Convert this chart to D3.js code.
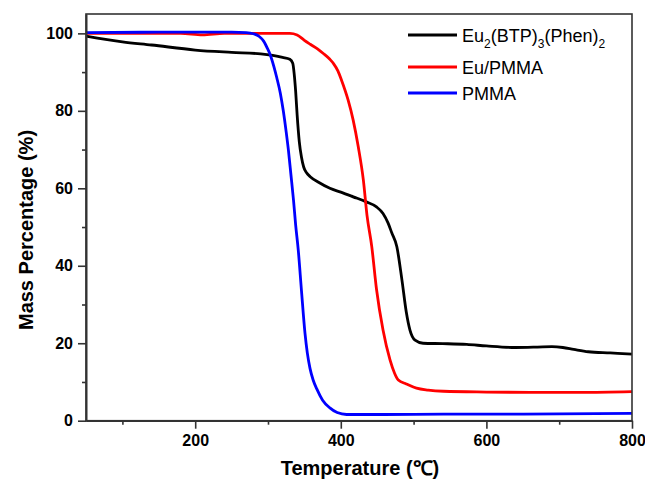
<!DOCTYPE html>
<html>
<head>
<meta charset="utf-8">
<script src="https://cdn.jsdelivr.net/npm/d3@7"></script>
<style>
  body { margin: 0; background: #fff; }
  svg text { font-family: Arial, "Liberation Sans", sans-serif; fill: #000; }
</style>
</head>
<body>
<div id="chart"></div>
<script>
// TGA curves: [temperature, mass %]
const complexData = [
  [50, 99.3], [100, 97.8], [140, 97.0], [200, 95.7], [250, 95.1], [290, 94.7],
  [320, 93.8], [330, 93.3], [334, 92.3], [336, 89.5], [338, 85], [340, 79],
  [343, 72], [346, 68], [349, 65.5], [353, 64.0], [358, 63.0], [370, 61.5],
  [385, 60.0], [400, 59.0], [417, 57.8], [435, 56.5], [449, 55.2], [458, 53.5],
  [465, 51], [470, 48.5], [477, 44.9], [484, 36.3], [490, 28], [495, 23.4],
  [502, 20.8], [513, 20.0], [540, 19.9], [573, 19.7], [600, 19.3], [640, 18.9],
  [670, 19.0], [690, 19.1], [705, 18.9], [720, 18.4], [740, 17.8], [770, 17.5], [800, 17.2]
];
const euPmmaData = [
  [50, 100], [100, 100], [180, 100], [210, 99.6], [240, 100], [300, 100], [330, 100],
  [340, 99.6], [350, 98.2], [358, 97.2], [368, 96.0], [376, 94.8], [385, 93.3],
  [390, 92.2], [396, 90.3], [401, 87.9], [410, 82.8], [417, 77.6], [424, 70.7],
  [431, 62.1], [436, 53], [442.5, 45], [449, 34], [458, 23.4], [467.6, 15.7],
  [474, 12.2], [479, 10.5], [490, 9.5], [504, 8.4], [520, 7.9], [541, 7.6],
  [600, 7.4], [660, 7.3], [730, 7.3], [800, 7.5]
];
const pmmaData = [
  [50, 100.2], [150, 100.3], [250, 100.3], [270, 100.2], [280, 99.9], [288, 99.2],
  [294, 98.0], [299, 96.2], [303, 94.5], [308, 91.5], [312, 88.6], [317, 84.5],
  [321, 80], [325, 74.5], [328, 69.9], [331.5, 63.5], [335, 57], [338, 50.5],
  [341.6, 44], [346, 33.5], [350.8, 22.6], [354, 17.5], [357.7, 13.5], [362, 10.5],
  [367, 8.2], [375, 5.3], [385, 3.3], [395, 2.1], [408, 1.6], [450, 1.6],
  [550, 1.7], [650, 1.7], [800, 1.9]
];

const seriesNames = ["Eu/PMMA", "PMMA"];
const seriesColors = ["#000000", "#ff0000", "#0000ff"];
const xTicks = [200, 400, 600, 800];
const xMinorTicks = [100, 300, 500, 700];
const yTicks = [0, 20, 40, 60, 80, 100];
const yMinorTicks = [10, 30, 50, 70, 90];

const width = 645, height = 484;
const plotLeft = 86, plotRight = 632, plotTop = 14, plotBottom = 420.7;

const svg = d3.select("#chart").append("svg")
  .attr("width", width).attr("height", height);

const x = d3.scaleLinear().domain([50, 800]).range([plotLeft, plotRight]);
const y = d3.scaleLinear().domain([0, 105]).range([plotBottom, plotTop]);

// curves first, frame on top
const line = d3.line().x(d => x(d[0])).y(d => y(d[1])).curve(d3.curveMonotoneX);
const allSeries = [complexData, euPmmaData, pmmaData];
// draw order: black, red, blue (blue on top like the original)
allSeries.forEach((s, i) => {
  svg.append("path")
    .datum(s)
    .attr("d", line)
    .attr("fill", "none")
    .attr("stroke", seriesColors[i])
    .attr("stroke-width", 2.8)
    .attr("stroke-linejoin", "round");
});

// frame
svg.append("rect")
  .attr("x", plotLeft).attr("y", plotTop)
  .attr("width", plotRight - plotLeft).attr("height", plotBottom - plotTop)
  .attr("fill", "none").attr("stroke", "#333").attr("stroke-width", 1.6);

// axes
svg.append("g")
  .attr("transform", "translate(0," + plotBottom + ")")
  .call(d3.axisBottom(x).tickValues(xTicks).tickSize(8).tickSizeOuter(0).tickPadding(6));
svg.append("g")
  .attr("transform", "translate(0," + plotBottom + ")")
  .call(d3.axisBottom(x).tickValues(xMinorTicks).tickSize(4).tickSizeOuter(0).tickFormat(""));

svg.append("g")
  .attr("transform", "translate(" + plotLeft + ",0)")
  .call(d3.axisLeft(y).tickValues(yTicks).tickSize(8).tickSizeOuter(0).tickPadding(5));
svg.append("g")
  .attr("transform", "translate(" + plotLeft + ",0)")
  .call(d3.axisLeft(y).tickValues(yMinorTicks).tickSize(4).tickSizeOuter(0).tickFormat(""));

svg.selectAll(".domain").attr("stroke", "#333").attr("stroke-width", 1.6);
svg.selectAll(".tick line").attr("stroke", "#333").attr("stroke-width", 1.6);
svg.selectAll(".tick text")
  .style("font-family", "Arial, 'Liberation Sans', sans-serif")
  .style("font-size", "16px")
  .style("font-weight", "bold")
  .attr("fill", "#000");

// axis titles
svg.append("text")
  .attr("x", 360).attr("y", 475)
  .attr("text-anchor", "middle")
  .style("font-size", "20px").style("font-weight", "bold")
  .text("Temperature (℃)");

svg.append("text")
  .attr("transform", "translate(33,230) rotate(-90)")
  .attr("text-anchor", "middle")
  .style("font-size", "20px").style("font-weight", "bold")
  .text("Mass Percentage (%)");

// legend
const legendRows = [35, 67, 93];
legendRows.forEach((ly, i) => {
  svg.append("line")
    .attr("x1", 408).attr("x2", 457)
    .attr("y1", ly).attr("y2", ly)
    .attr("stroke", seriesColors[i]).attr("stroke-width", 2.8);
});

const t0 = svg.append("text")
  .attr("x", 462).attr("y", legendRows[0] + 7)
  .style("font-size", "18px");
t0.append("tspan").text("Eu");
t0.append("tspan").attr("dy", 6).style("font-size", "12px").text("2");
t0.append("tspan").attr("dy", -6).text("(BTP)");
t0.append("tspan").attr("dy", 6).style("font-size", "12px").text("3");
t0.append("tspan").attr("dy", -6).text("(Phen)");
t0.append("tspan").attr("dy", 6).style("font-size", "12px").text("2");

seriesNames.forEach((name, i) => {
  svg.append("text")
    .attr("x", 462).attr("y", legendRows[i + 1] + 7)
    .style("font-size", "18px")
    .text(name);
});
</script>
</body>
</html>
